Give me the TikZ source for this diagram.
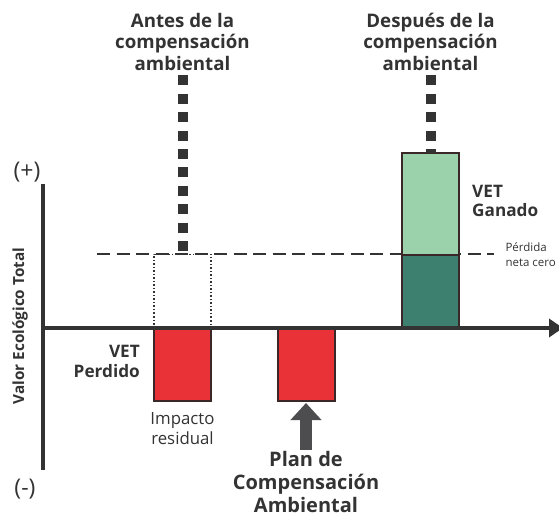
\documentclass[tikz,border=0pt]{standalone}
\usepackage{fontspec}
\setmainfont{Open Sans}
\usepackage{tikz}
\usetikzlibrary{arrows.meta,positioning}
\definecolor{ink}{RGB}{51,51,51}
\definecolor{barline}{RGB}{58,40,40}
\definecolor{redbar}{RGB}{232,50,56}
\definecolor{lightgreen}{RGB}{155,210,172}
\definecolor{darkgreen}{RGB}{62,128,112}
\definecolor{arrowgray}{RGB}{77,77,79}
\tikzset{
    %Define standard arrow tip
    >={Triangle[width=18pt,length=14pt]},
    %Define style for bars
    vetbar/.style={
           rectangle,
           draw=barline,
           line width=2pt,
           minimum width=57pt,
           inner sep=0pt,
           outer sep=0pt},
    lost/.style={vetbar, fill=redbar, minimum height=73pt},
    gained/.style={vetbar, fill=lightgreen, minimum height=102pt},
    restored/.style={vetbar, fill=darkgreen, minimum height=73pt},
    ghost/.style={
           rectangle,
           draw=ink, dotted,
           line width=1.5pt,
           minimum width=57pt,
           minimum height=73pt,
           inner sep=0pt,
           outer sep=0pt},
    %Define style for labels
    title/.style={
           align=center,
           text=ink,
           inner sep=1pt,
           font=\bfseries\fontsize{18.7}{21.5}\selectfont},
    % Define line styles
    axis/.style={draw=ink, line width=4pt},
    zeroline/.style={draw=ink, line width=2pt, dash pattern=on 13pt off 6.5pt},
    squares/.style={draw=ink, line width=10pt, dash pattern=on 10pt off 8.4pt}
}
\begin{document}
\begin{tikzpicture}[x=1pt,y=-1pt,every node/.style={text=ink}]
\useasboundingbox (0,0) rectangle (559,518);
 %axes and zero net loss line
\coordinate (ytop) at (43,184);
\coordinate (ybot) at (43,470);
\coordinate (orig) at (41,328);
\coordinate (xend) at (563,328);
\coordinate (z1) at (97,254.5);
\coordinate (z2) at (494,254.5);
\draw[zeroline] (z1) -- (z2);
 %bars
\node[ghost](ghost) at (182.5,291){};
\node[lost, below=0pt of ghost](impact){};
\node[lost](plan) at (306,364.5){};
\node[restored](dark) at (430.5,291.5){};
\node[gained, above=0pt of dark](light){};
\draw[axis] (ytop) -- (ybot);
\draw[axis,->] (orig) -- (xend);
 %labels
\node[title](before) at (182.5,41.5){Antes de la\\compensación\\ambiental};
\node[title](after) at (430.5,41.5){Después de la\\compensación\\ambiental};
\node[title, align=right, anchor=east, font=\bfseries\fontsize{17.2}{19.5}\selectfont](lostlbl) at (141,361.5){VET\\Perdido};
\node[title, align=left, anchor=west, font=\bfseries\fontsize{17.2}{19.5}\selectfont](gainlbl) at (471,201){VET\\Ganado};
\node[align=center, font=\fontsize{16.8}{19.5}\selectfont](residual) at (182.5,428.5){Impacto\\residual};
\node[align=left, anchor=west, font=\fontsize{11.5}{14.5}\selectfont](netzero) at (502,254.5){Pérdida\\neta cero};
\node[title, font=\bfseries\fontsize{20}{23}\selectfont](plantext) at (306,481.5){Plan de\\Compensación\\Ambiental};
\node[font=\fontsize{23}{25}\selectfont](plus) at (27,172){(+)};
\node[font=\fontsize{23}{25}\selectfont](minus) at (25,489){(-)};
\node[rotate=90, font=\bfseries\fontsize{15.3}{18}\selectfont](ylabel) at (20,326){Valor Ecológico Total};
 %connectors
\draw[squares, shorten <=4pt] (before.south) -- (ghost.north);
\draw[squares, shorten <=4pt] (after.south) -- (light.north);
\draw[draw=arrowgray, line width=12pt, -{Triangle[width=30pt,length=17pt]}, shorten >=2pt] (plantext.north) -- (plan.south);
\end{tikzpicture}
\end{document}
